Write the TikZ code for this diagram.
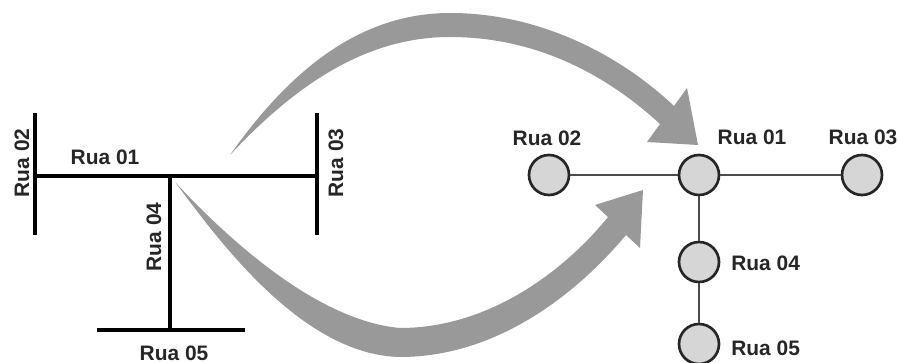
\documentclass[tikz,border=0pt]{standalone}
\usepackage{fontspec}
\setmainfont{Liberation Sans}
\begin{document}
\begin{tikzpicture}[x=0.75pt,y=-0.75pt,
  street/.style={line width=2.6pt, draw=black},
  lbl/.style={font=\fontsize{15.7}{18}\selectfont\bfseries, inner sep=0pt, text=black!85},
  vtx/.style={circle, draw=black!85, fill=black!16, line width=2pt, minimum size=30pt, inner sep=0pt},
  link/.style={draw=black!70, line width=1.4pt},
  bigarrow/.style={fill=black!40, draw=none}]
\useasboundingbox (0,0) rectangle (898,363);
% left street map
\coordinate (r1w) at (35,176);
\coordinate (r1e) at (317,176);
\coordinate (r2t) at (35,113);
\coordinate (r2b) at (35,235);
\coordinate (r3t) at (317,113);
\coordinate (r3b) at (317,235);
\coordinate (r4t) at (170,176);
\coordinate (r4b) at (170,330);
\coordinate (r5w) at (97,330);
\coordinate (r5e) at (245,330);
% arrows
\fill[bigarrow] (230,155) .. controls (290,70) and (360,13) .. (450,13)
  .. controls (540,13) and (620,55) .. (674,106) -- (687,88) -- (698,145) -- (647,142) -- (660,124)
  .. controls (610,78) and (540,37) .. (450,37) .. controls (370,37) and (300,80) .. (230,155) -- cycle;
\fill[bigarrow] (175,182) .. controls (215,235) and (300,355) .. (400,357)
  .. controls (500,357) and (580,290) .. (626,235) -- (640,248) -- (643,190) -- (595,205) -- (608,217)
  .. controls (565,270) and (490,328) .. (400,328) .. controls (310,320) and (215,225) .. (175,182) -- cycle;
\draw[street] (r1w) -- (r1e);
\draw[street] (r2t) -- (r2b);
\draw[street] (r3t) -- (r3b);
\draw[street] (r4t) -- (r4b);
\draw[street] (r5w) -- (r5e);
\node[lbl] (l1) at (105,157) {Rua 01};
\node[lbl, rotate=90] (l2) at (22,163) {Rua 02};
\node[lbl, rotate=90] (l3) at (336,163) {Rua 03};
\node[lbl, rotate=90] (l4) at (154,237) {Rua 04};
\node[lbl] (l5) at (174,353) {Rua 05};
% right graph
\node[vtx] (n2) at (549,175) {};
\node[vtx] (n1) at (699,175) {};
\node[vtx] (n3) at (862,175) {};
\node[vtx] (n4) at (699,262) {};
\node[vtx] (n5) at (699,344) {};
\draw[link] (n2) -- (n1);
\draw[link] (n1) -- (n3);
\draw[link] (n1) -- (n4);
\draw[link] (n4) -- (n5);
\node[lbl] (t2) at (547,138) {Rua 02};
\node[lbl] (t1) at (752,137) {Rua 01};
\node[lbl] (t3) at (863,137) {Rua 03};
\node[lbl, anchor=west] (t4) at (731,263) {Rua 04};
\node[lbl, anchor=west] (t5) at (731,348) {Rua 05};
\end{tikzpicture}
\end{document}
